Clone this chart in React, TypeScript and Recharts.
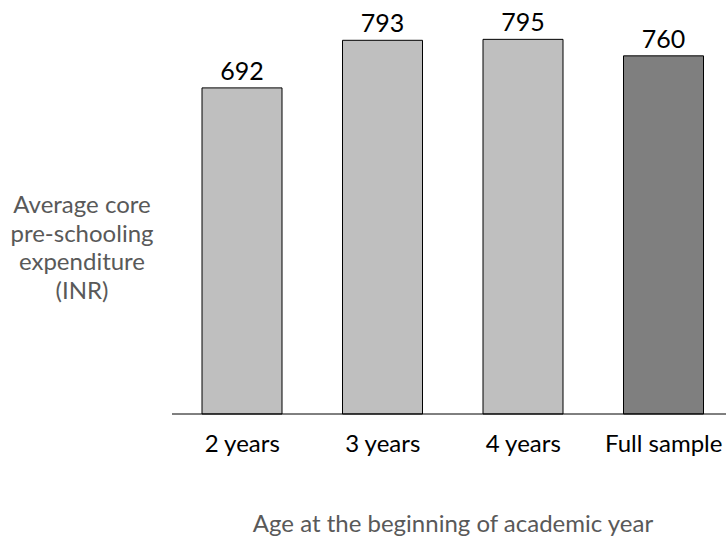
import { Bar, BarChart, Cell, LabelList, XAxis, YAxis } from "recharts";

const categories = ["2 years", "3 years", "4 years", "Full sample"];
const expenditure = [692, 793, 795, 760];
const barFills = ["#bfbfbf", "#bfbfbf", "#bfbfbf", "#7f7f7f"];
const yTitleLines = ["Average core", "pre-schooling", "expenditure", "(INR)"];
const xTitle = "Age at the beginning of academic year";

const data = categories.map((name, i) => ({ name, value: expenditure[i] }));

const FONT = "Lato, 'Open Sans', sans-serif";

// the source plot runs a little past the right edge, so the chart is wider than the frame
export default function App() {
  return (
    <div
      style={{
        position: "absolute",
        left: 0,
        top: 0,
        width: 726,
        height: 539,
        overflow: "hidden",
        fontFamily: FONT,
      }}
    >
      <BarChart
        width={734}
        height={539}
        data={data}
        margin={{ top: 37, right: 0, left: 172, bottom: 95 }}
        barSize={80}
      >
        <XAxis
          dataKey="name"
          height={30}
          tickLine={false}
          tickMargin={15}
          axisLine={{ stroke: "#000", strokeWidth: 1 }}
          tick={{ fontSize: 24, fill: "#000", fontFamily: FONT }}
          label={{
            value: xTitle,
            position: "bottom",
            offset: 71,
            fontSize: 24,
            fill: "#595959",
            fontFamily: FONT,
          }}
        />
        <YAxis hide domain={[0, 800]} />
        <Bar dataKey="value" stroke="#000" strokeWidth={1} isAnimationActive={false}>
          {data.map((d, i) => (
            <Cell key={d.name} fill={barFills[i]} />
          ))}
          <LabelList
            dataKey="value"
            position="top"
            offset={8}
            style={{ fontSize: 25, fill: "#000", fontFamily: FONT }}
          />
        </Bar>
      </BarChart>
      <div
        style={{
          position: "absolute",
          left: 0,
          top: 190,
          width: 164,
          textAlign: "center",
          fontSize: 24,
          lineHeight: "28.5px",
          color: "#595959",
        }}
      >
        {yTitleLines.map((line) => (
          <div key={line}>{line}</div>
        ))}
      </div>
    </div>
  );
}
